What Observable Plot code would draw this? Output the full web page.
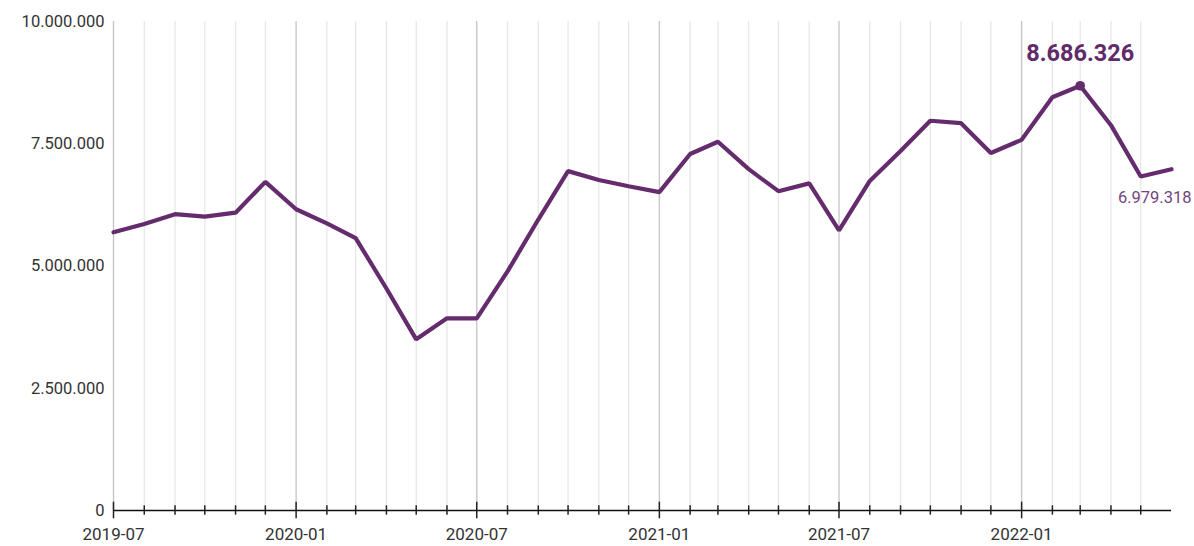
<!DOCTYPE html>
<html><head><meta charset="utf-8">
<script src="https://cdn.jsdelivr.net/npm/d3@7"></script>
<script src="https://cdn.jsdelivr.net/npm/@observablehq/plot@0.6"></script>
<style>
html,body{margin:0;padding:0;background:#fff;}
#chart svg{overflow:visible;display:block;}
</style>
</head><body><div id="chart"></div>
<script>
const months = ["2019-07","2019-08","2019-09","2019-10","2019-11","2019-12",
  "2020-01","2020-02","2020-03","2020-04","2020-05","2020-06",
  "2020-07","2020-08","2020-09","2020-10","2020-11","2020-12",
  "2021-01","2021-02","2021-03","2021-04","2021-05","2021-06",
  "2021-07","2021-08","2021-09","2021-10","2021-11","2021-12",
  "2022-01","2022-02","2022-03","2022-04","2022-05","2022-06"];
const values = [5690000,5860000,6060000,6010000,6090000,6720000,
  6160000,5870000,5570000,4540000,3500000,3930000,
  3930000,4890000,5950000,6940000,6760000,6630000,
  6510000,7290000,7540000,6980000,6530000,6690000,
  5730000,6740000,7350000,7970000,7920000,7310000,
  7580000,8450000,8686326,7880000,6830000,6979318];
const yTicks = [0,2500000,5000000,7500000,10000000];
const xTickLabels = ["2019-07","2020-01","2020-07","2021-01","2021-07","2022-01"];
const peakMonth = "2022-03";
const lastMonth = "2022-06";

const parse = d3.utcParse("%Y-%m");
const data = months.map((m,i)=>({date: parse(m), month: m, value: values[i]}));
const fmt = d3.formatLocale({decimal:",", thousands:".", grouping:[3], currency:["","€"]}).format(",d");
const majorSet = new Set(xTickLabels);
const gridMonths = months.filter(m => m !== lastMonth);
const minorDates = gridMonths.filter(m => !majorSet.has(m)).map(parse);
const majorDates = xTickLabels.map(parse);
const peak = data.filter(d => d.month === peakMonth);
const last = data.filter(d => d.month === lastMonth);

const purple = "#652c6d";

const chart = Plot.plot({
  width: 1194,
  height: 546,
  marginLeft: 113,
  marginRight: 23,
  marginTop: 21,
  marginBottom: 36,
  style: {fontFamily: "Roboto, sans-serif", fontSize: "16px", color: "#333", background: "#fff", overflow: "visible"},
  x: {type: "utc", domain: [parse(months[0]), parse(lastMonth)]},
  y: {domain: [0, 10000000]},
  marks: [
    Plot.ruleX(minorDates, {y1: 0, y2: 10000000, stroke: "#e6e6e6", strokeWidth: 1.2}),
    Plot.ruleX(majorDates, {y1: 0, y2: 10000000, stroke: "#c8c8c8", strokeWidth: 1.4}),
    Plot.axisY({ticks: yTicks, tickFormat: fmt, tickSize: 0, tickPadding: 9, fontSize: 16.5, label: null}),
    Plot.axisX({ticks: majorDates, tickFormat: d3.utcFormat("%Y-%m"), tickSize: 0, tickPadding: 17, fontSize: 17, label: null}),
    Plot.ruleY([0], {stroke: "#111", strokeWidth: 1.6}),
    Plot.ruleX(minorDates, {y1: -95000, y2: 95000, stroke: "#222", strokeWidth: 1.5}),
    Plot.ruleX(majorDates, {y1: -170000, y2: 170000, stroke: "#222", strokeWidth: 1.5}),
    Plot.line(data, {x: "date", y: "value", stroke: purple, strokeWidth: 4.2, strokeLinejoin: "miter", curve: "linear"}),
    Plot.dot(peak, {x: "date", y: "value", r: 4.8, fill: purple}),
    Plot.text(peak, {x: "date", y: "value", text: d => fmt(d.value), dy: -32, fontSize: 23.5, fontWeight: "bold", fill: "#5f2b68"}),
    Plot.text(last, {x: "date", y: "value", text: d => fmt(d.value), dy: 29, dx: 20, textAnchor: "end", fontSize: 16.5, fill: "#73457d"})
  ]
});
document.getElementById("chart").appendChild(chart);
</script>
</body></html>
